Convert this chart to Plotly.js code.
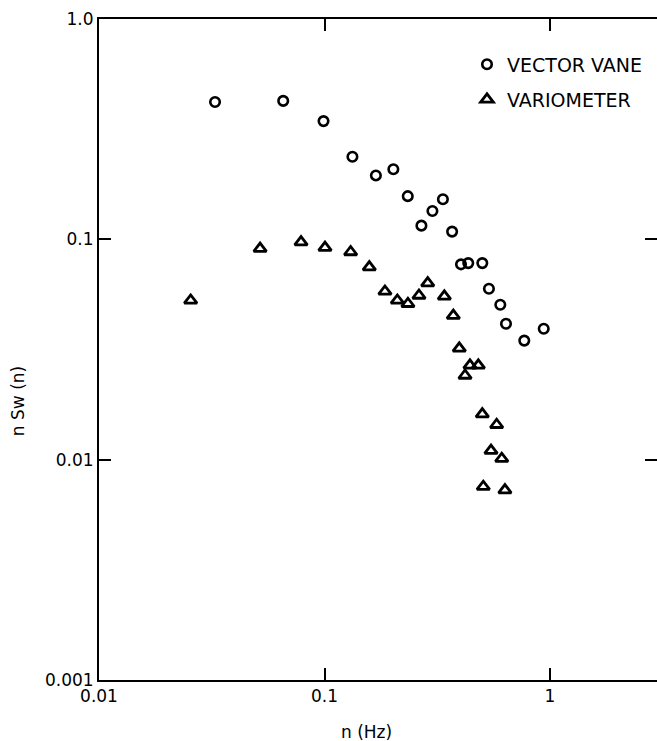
<!DOCTYPE html>
<html>
<head>
<meta charset="utf-8">
<script src="https://cdn.plot.ly/plotly-3.0.1.min.js"></script>
<style>html,body{margin:0;padding:0;background:#fff;}#chart{width:657px;height:741px;}</style>
</head>
<body>
<div id="chart"></div>
<script>
// Vector vane: frequency n (Hz) and n Sw(n)
const vaneFreq = [0.0327, 0.0656, 0.099, 0.133, 0.169, 0.202, 0.234, 0.301, 0.335, 0.269, 0.368, 0.403, 0.434, 0.501, 0.536, 0.602, 0.638, 0.769, 0.938];
const vaneSpec = [0.420, 0.425, 0.344, 0.237, 0.195, 0.208, 0.157, 0.1345, 0.152, 0.1154, 0.1084, 0.0770, 0.0780, 0.0780, 0.0597, 0.0505, 0.0414, 0.0347, 0.0393];

// Variometer
const varioFreq = [0.0255, 0.0518, 0.0787, 0.1005, 0.1306, 0.158, 0.1854, 0.2104, 0.2344, 0.2624, 0.2869, 0.340, 0.3726, 0.396, 0.420, 0.4417, 0.481, 0.501, 0.580, 0.5475, 0.611, 0.506, 0.631];
const varioSpec = [0.0528, 0.0907, 0.0972, 0.0917, 0.0876, 0.0748, 0.0580, 0.0528, 0.0510, 0.0556, 0.0633, 0.0551, 0.0451, 0.0320, 0.0241, 0.0268, 0.0268, 0.0161, 0.0144, 0.0110, 0.0101, 0.00754, 0.00728];

const xTickVals = [0.01, 0.1, 1];
const xTickText = ["0.01", "0.1", "1"];
const yTickVals = [0.001, 0.01, 0.1, 1];
const yTickText = ["0.001", "0.01", "0.1", "1.0"];

const seriesNames = ["VECTOR VANE", "VARIOMETER"];
const xTitle = "n (Hz)";
const yTitle = "n Sw (n)";

const FONT = "DejaVu Sans, Liberation Sans, sans-serif";

const traces = [
  {
    x: vaneFreq, y: vaneSpec, type: "scatter", mode: "markers", name: seriesNames[0],
    marker: {symbol: "circle-open", size: 9.5, color: "#000", line: {width: 2.6, color: "#000"}},
    legend: "legend", hoverinfo: "skip"
  },
  {
    x: varioFreq, y: varioSpec, type: "scatter", mode: "markers", name: seriesNames[1],
    marker: {symbol: "triangle-up-open", size: 11, color: "#000", line: {width: 2.8, color: "#000"}},
    legend: "legend2", hoverinfo: "skip"
  }
];

const layout = {
  width: 657, height: 741,
  margin: {l: 99, r: 0, t: 19, b: 61, pad: 0},
  paper_bgcolor: "#fff", plot_bgcolor: "#fff",
  font: {family: FONT, color: "#000", size: 17},
  showlegend: true,
  xaxis: {
    type: "log", range: [-2, 0.4745],
    showgrid: false, zeroline: false,
    showline: true, linecolor: "#000", linewidth: 2,
    mirror: "ticks",
    ticks: "inside", ticklen: 12, tickwidth: 2, tickcolor: "#000",
    tickmode: "array", tickvals: xTickVals, ticktext: xTickText,
    tickfont: {family: FONT, size: 17, color: "#000"}
  },
  yaxis: {
    type: "log", range: [-3, 0],
    showgrid: false, zeroline: false,
    showline: true, linecolor: "#000", linewidth: 2,
    mirror: "ticks",
    ticks: "inside", ticklen: 12, tickwidth: 2, tickcolor: "#000",
    tickmode: "array", tickvals: yTickVals, ticktext: yTickText,
    tickfont: {family: FONT, size: 17, color: "#000"}
  },
  legend: {
    x: 0.6595, xanchor: "left", y: 0.96, yanchor: "top",
    bgcolor: "rgba(0,0,0,0)", borderwidth: 0,
    font: {family: FONT, size: 19, color: "#000"}
  },
  legend2: {
    x: 0.6595, xanchor: "left", y: 0.907, yanchor: "top",
    bgcolor: "rgba(0,0,0,0)", borderwidth: 0,
    font: {family: FONT, size: 19, color: "#000"}
  },
  annotations: [
    {text: xTitle, xref: "paper", yref: "paper", x: 0.4785, y: -0.0787, xanchor: "center", yanchor: "middle",
     showarrow: false, font: {family: FONT, size: 17, color: "#000"}},
    {text: yTitle, xref: "paper", yref: "paper", x: -0.145, y: 0.422, xanchor: "center", yanchor: "middle",
     textangle: -90, showarrow: false, font: {family: FONT, size: 17, color: "#000"}}
  ]
};

Plotly.newPlot("chart", traces, layout, {displayModeBar: false, staticPlot: true});
</script>
</body>
</html>
